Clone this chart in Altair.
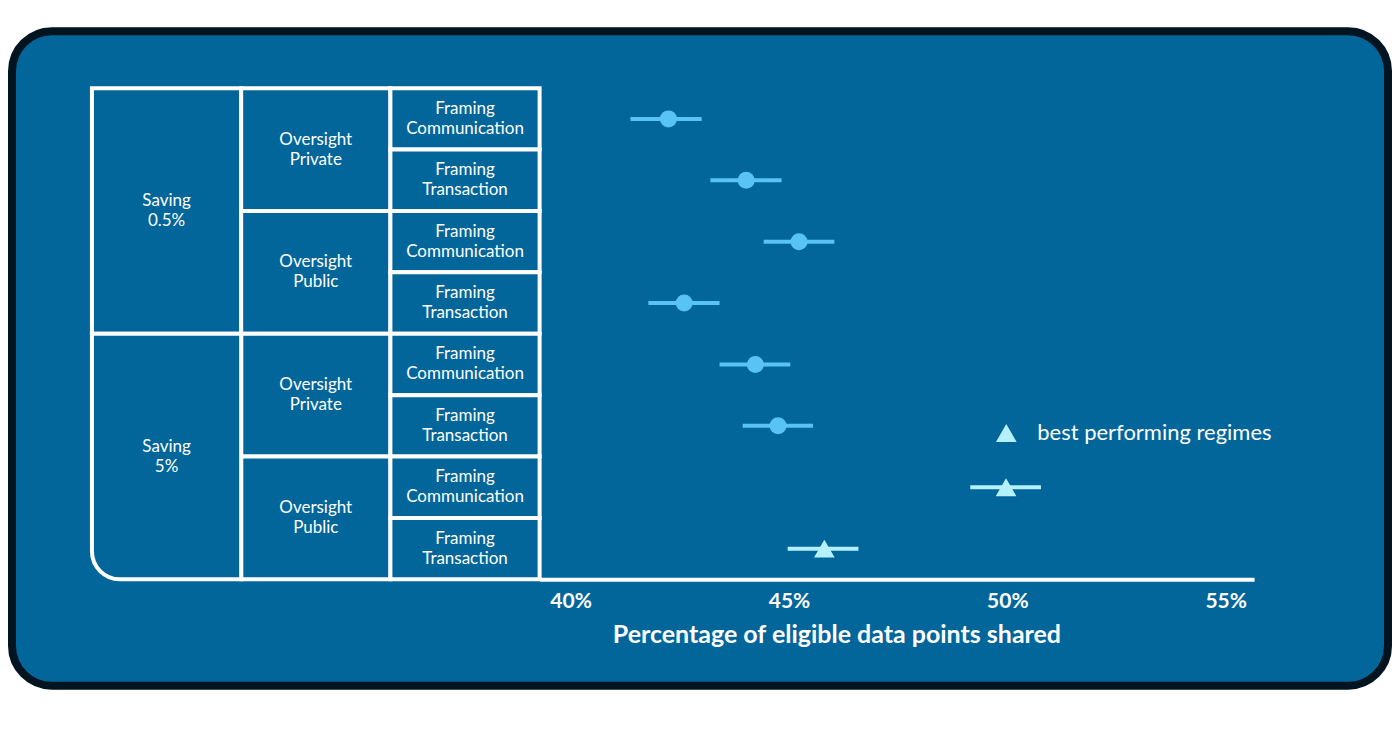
import pandas as pd
import altair as alt

BG = '#02669b'
BORDER = '#01141f'
DOT = '#59c3f5'
BEST = '#b5f1fd'

# table labels (three nested levels)
saving = ['0.5%', '5%']
oversight = ['Private', 'Public']
framing = ['Communication', 'Transaction']

# percentage of eligible data points shared, one value per table row
share = [42.24, 44.02, 45.23, 42.60, 44.23, 44.75, 49.97, 45.81]
ci_low = [41.37, 43.20, 44.42, 41.78, 43.41, 43.94, 49.15, 44.97]
ci_high = [43.00, 44.83, 46.04, 43.41, 45.03, 45.55, 50.77, 46.59]
best = [False, False, False, False, False, False, True, True]

x_ticks = [40, 45, 50, 55]
best_label = 'best performing regimes'

# build the nested table cells
n_rows = len(share)
rows = []
for i, s in enumerate(saving):
    r_s = i * 4
    rows.append(dict(col=0, r0=r_s, r1=r_s + 4, label='Saving\n' + s))
    for j, o in enumerate(oversight):
        r_o = r_s + j * 2
        rows.append(dict(col=1, r0=r_o, r1=r_o + 2, label='Oversight\n' + o))
        for k, f in enumerate(framing):
            rows.append(dict(col=2, r0=r_o + k, r1=r_o + k + 1, label='Framing\n' + f))
cells = pd.DataFrame(rows)
cells['c1'] = cells['col'] + 1
cells['cx'] = cells['col'] + 0.5
cells['cy'] = (cells['r0'] + cells['r1']) / 2
cells['corner'] = (cells['col'] == 0) & (cells['r1'] == n_rows)

pts = pd.DataFrame({
    'row': [i + 0.5 for i in range(n_rows)],
    'share': share,
    'lo': ci_low,
    'hi': ci_high,
    'kind': [best_label if b else 'other' for b in best],
})

# scales
tx = alt.Scale(domain=[0, 3], range=[80, 528], nice=False, zero=False)
ty = alt.Scale(domain=[0, n_rows], range=[57, 548.5], nice=False, zero=False)
px = alt.Scale(domain=[39.29, 55.65], range=[528, 1243], nice=False, zero=False)
shape_scale = alt.Scale(domain=['other', best_label], range=['circle', 'triangle-up'])
is_other = "datum.kind == 'other'"

base_cells = alt.Chart(cells)

rects = base_cells.mark_rect(fill=BG, stroke='white', strokeWidth=4).encode(
    x=alt.X('col:Q', scale=tx, axis=None),
    x2='c1:Q',
    y=alt.Y('r0:Q', scale=ty, axis=None),
    y2='r1:Q'
).transform_filter('!datum.corner')

corner = base_cells.mark_rect(
    fill=BG, stroke='white', strokeWidth=4, cornerRadiusBottomLeft=28
).encode(
    x=alt.X('col:Q', scale=tx, axis=None),
    x2='c1:Q',
    y=alt.Y('r0:Q', scale=ty, axis=None),
    y2='r1:Q'
).transform_filter('datum.corner')

labels = base_cells.mark_text(
    font='Lato', fontSize=17, color='white', lineBreak='\n', lineHeight=20,
    align='center', baseline='middle', dy=-10
).encode(
    x=alt.X('cx:Q', scale=tx, axis=None),
    y=alt.Y('cy:Q', scale=ty, axis=None),
    text='label:N'
)

bars = alt.Chart(pts).mark_rule(strokeWidth=4).encode(
    x=alt.X('lo:Q', scale=px, axis=None),
    x2='hi:Q',
    y=alt.Y('row:Q', scale=ty, axis=None),
    color=alt.condition(is_other, alt.value(DOT), alt.value(BEST))
)

dots = alt.Chart(pts).mark_point(filled=True, opacity=1).encode(
    x=alt.X('share:Q', scale=px, axis=alt.Axis(
        values=x_ticks,
        labelExpr="datum.value + '%'",
        title='Percentage of eligible data points shared',
        offset=-106.5,
        ticks=False,
        grid=False,
        domainColor='white',
        domainWidth=4,
        labelColor='white',
        labelFont='Lato',
        labelFontWeight='bold',
        labelFontSize=21,
        labelPadding=11,
        titleColor='white',
        titleFont='Lato',
        titleFontWeight='bold',
        titleFontSize=25,
        titleX=825,
        titleY=63,
        titleAlign='center',
        titleBaseline='alphabetic'
    )),
    y=alt.Y('row:Q', scale=ty, axis=None),
    color=alt.condition(is_other, alt.value(DOT), alt.value(BEST)),
    shape=alt.Shape('kind:N', scale=shape_scale, legend=alt.Legend(
        values=[best_label],
        orient='none',
        legendX=984,
        legendY=391,
        title=None,
        symbolSize=430,
        symbolFillColor=BEST,
        symbolStrokeWidth=0,
        labelFont='Lato',
        labelFontSize=22,
        labelColor='white',
        labelOffset=20,
        labelLimit=400,
        padding=0
    )),
    size=alt.condition(is_other, alt.value(290), alt.value(430))
)

chart = alt.layer(rects, corner, labels, bars, dots).resolve_scale(
    x='independent', y='independent'
).properties(
    width=1377,
    height=655,
    padding={'left': 4, 'top': 23, 'right': 4, 'bottom': 4},
    autosize='none',
    background='white'
).configure_view(
    fill=BG, stroke=BORDER, strokeWidth=8, cornerRadius=40
)

chart.save("out.html", embed_options={"renderer": "svg", "actions": False})
